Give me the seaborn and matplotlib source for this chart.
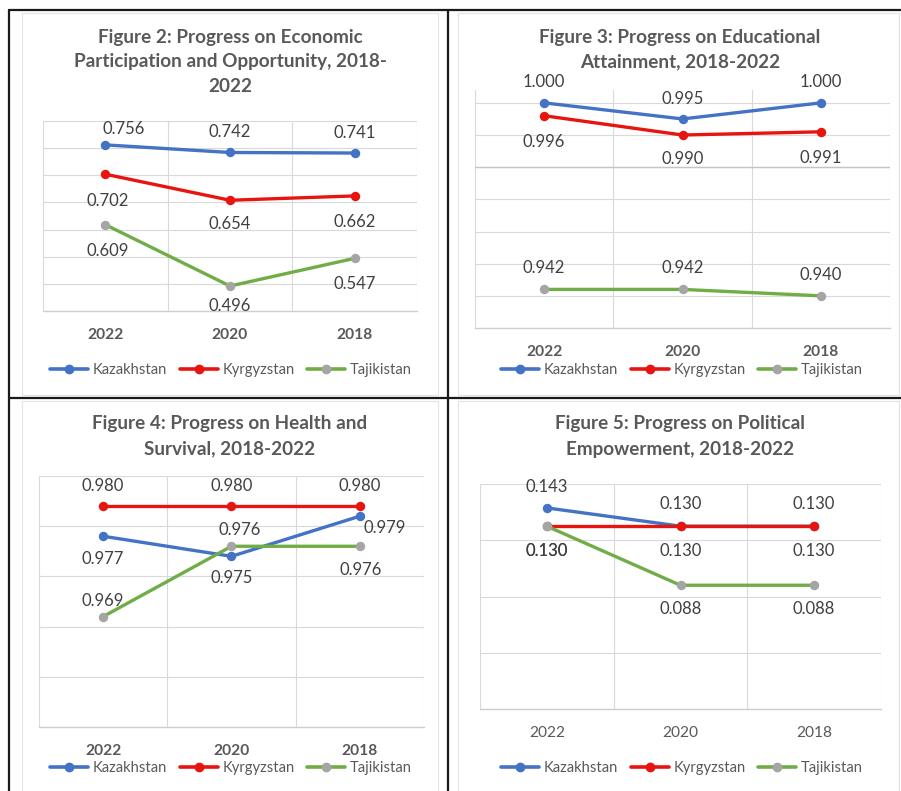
import numpy as np
import pandas as pd
import seaborn as sns
import matplotlib
matplotlib.use("Agg")
import matplotlib.pyplot as plt
from matplotlib.lines import Line2D
from matplotlib.patches import Rectangle

# ---------------- data ----------------
years = ["2022", "2020", "2018"]
countries = ["Kazakhstan", "Kyrgyzstan", "Tajikistan"]

econ_kazakhstan = [0.756, 0.742, 0.741]
econ_kyrgyzstan = [0.702, 0.654, 0.662]
econ_tajikistan = [0.609, 0.496, 0.547]

edu_kazakhstan = [1.000, 0.995, 1.000]
edu_kyrgyzstan = [0.996, 0.990, 0.991]
edu_tajikistan = [0.942, 0.942, 0.940]

health_kazakhstan = [0.977, 0.975, 0.979]
health_kyrgyzstan = [0.980, 0.980, 0.980]
health_tajikistan = [0.969, 0.976, 0.976]

pol_kazakhstan = [0.143, 0.130, 0.130]
pol_kyrgyzstan = [0.130, 0.130, 0.130]
pol_tajikistan = [0.130, 0.088, 0.088]

titles = [
    "Figure 2: Progress on Economic\nParticipation and Opportunity, 2018-\n2022",
    "Figure 3: Progress on Educational\nAttainment, 2018-2022",
    "Figure 4: Progress on Health and\nSurvival, 2018-2022",
    "Figure 5: Progress on Political\nEmpowerment, 2018-2022",
]

# ---------------- style ----------------
W, H = 901, 791
line_colors = {"Kazakhstan": "#4472C4", "Kyrgyzstan": "#E8140F", "Tajikistan": "#70AD47"}
marker_colors = {"Kazakhstan": "#4472C4", "Kyrgyzstan": "#E8140F", "Tajikistan": "#A5A5A5"}
grid_c = "#D9D9D9"
text_c = "#404040"
title_c = "#595959"

sns.set_style("white")
plt.rcParams["font.family"] = ["Lato", "DejaVu Sans"]

fig = plt.figure(figsize=(W / 100, H / 100), dpi=100)
fig.patch.set_facecolor("white")


def rect(x0, y0, x1, y1):
    return [x0 / W, 1 - y1 / H, (x1 - x0) / W, (y1 - y0) / H]


def make_df(a, b, c):
    rows = []
    for name, vals in zip(countries, [a, b, c]):
        for i, (yr, v) in enumerate(zip(years, vals)):
            rows.append({"country": name, "pos": i, "year": yr, "value": v})
    return pd.DataFrame(rows)


panels = [
    dict(df=make_df(econ_kazakhstan, econ_kyrgyzstan, econ_tajikistan),
         box=(43, 121, 417, 311), ylim=(0.45, 0.80), grid=np.arange(0.45, 0.801, 0.05),
         dark=[], title_xy=(230, 37), legend_xy=(231, 370), bold=True,
         offs={"Kazakhstan": [(18, -16), (0, -20), (0, -20)],
               "Kyrgyzstan": [(2, 27), (0, 24), (0, 26)],
               "Tajikistan": [(2, 26), (0, 20), (0, 26)]}),
    dict(df=make_df(edu_kazakhstan, edu_kyrgyzstan, edu_tajikistan),
         box=(475, 90, 890, 328), ylim=(0.93, 1.004), grid=np.arange(0.93, 1.0001, 0.01),
         dark=[0.98], title_xy=(680, 37), legend_xy=(682, 370), bold=True,
         offs={"Kazakhstan": [(0, -21), (0, -20), (0, -21)],
               "Kyrgyzstan": [(0, 26), (0, 24), (0, 26)],
               "Tajikistan": [(0, -21), (0, -21), (0, -21)]}),
    dict(df=make_df(health_kazakhstan, health_kyrgyzstan, health_tajikistan),
         box=(39, 476, 424, 727), ylim=(0.958, 0.983), grid=np.arange(0.958, 0.9831, 0.005),
         dark=[], title_xy=(230, 424), legend_xy=(231, 768), bold=True,
         offs={"Kazakhstan": [(0, 23), (0, 22), (25, 12)],
               "Kyrgyzstan": [(0, -20), (0, -20), (0, -20)],
               "Tajikistan": [(0, -16), (8, -16), (1, 24)]}),
    dict(df=make_df(pol_kazakhstan, pol_kyrgyzstan, pol_tajikistan),
         box=(480, 484, 881, 709), ylim=(0.0, 0.16), grid=np.arange(0.0, 0.1601, 0.04),
         dark=[], title_xy=(680, 424), legend_xy=(682, 768), bold=False,
         offs={"Kazakhstan": [(0, -21), (0, -22), (0, -22)],
               "Kyrgyzstan": [(0, 25), (0, 25), (0, 25)],
               "Tajikistan": [(0, 25), (0, 24), (0, 24)]}),
]

for p in panels:
    ax = fig.add_axes(rect(*p["box"]))
    df = p["df"]
    for z, name in enumerate(countries):
        sub = df[df["country"] == name]
        sns.lineplot(data=sub, x="pos", y="value", color=line_colors[name], lw=2.4,
                     sort=False, ax=ax, zorder=3 + z, legend=False)
        sns.scatterplot(data=sub, x="pos", y="value", color=marker_colors[name], s=46,
                        edgecolor=marker_colors[name], linewidth=0, ax=ax,
                        zorder=3.5 + z, legend=False, clip_on=False)
        for (_, r), (dx, dy) in zip(sub.iterrows(), p["offs"][name]):
            ax.annotate(f"{r['value']:.3f}", (r["pos"], r["value"]),
                        xytext=(dx * 0.72, -dy * 0.72), textcoords="offset points",
                        ha="center", va="center", fontsize=12, color=text_c, zorder=10)
    ax.set_xlim(-0.5, 2.5)
    ax.set_ylim(*p["ylim"])
    ax.set_yticks(p["grid"])
    ax.set_yticklabels([])
    ax.set_xticks(range(len(years)))
    ax.set_xticklabels(years, fontsize=11.2, color=title_c,
                       fontweight="bold" if p["bold"] else "normal")
    ax.set_xticks([-0.5, 0.5, 1.5, 2.5], minor=True)
    ax.tick_params(axis="both", which="both", length=0)
    ax.tick_params(axis="x", pad=12.5)
    ax.grid(True, axis="y", which="major", color=grid_c, lw=0.8)
    ax.grid(True, axis="x", which="minor", color=grid_c, lw=0.8)
    ax.grid(False, axis="x", which="major")
    for v in p["dark"]:
        ax.axhline(v, color="#C4C4C4", lw=1.0, zorder=1)
    for s in ax.spines.values():
        s.set_visible(False)
    ax.spines["bottom"].set_visible(True)
    ax.spines["bottom"].set_color("#CFCFCF")
    ax.spines["bottom"].set_linewidth(1.0)
    ax.set_xlabel("")
    ax.set_ylabel("")
    ax.set_axisbelow(True)

    handles = [Line2D([0], [0], color=line_colors[n], lw=2.6, marker="o", ms=6,
                      mfc=marker_colors[n], mec=marker_colors[n]) for n in countries]
    lx, ly = p["legend_xy"]
    fig.legend(handles, countries, loc="center", bbox_to_anchor=(lx / W, 1 - ly / H),
               ncol=3, frameon=False, fontsize=10.6, handlelength=2.6,
               handletextpad=0.3, columnspacing=0.85, labelcolor=title_c)

# titles (line by line, 25 px apart)
for p, t in zip(panels, titles):
    tx, ty = p["title_xy"]
    for k, line in enumerate(t.split("\n")):
        fig.text(tx / W, 1 - (ty + 25 * k) / H, line, ha="center", va="center",
                 fontsize=13.6, fontweight="bold", color=title_c)

# chart-area frames (light) and table borders (black)
for (x0, y0, x1, y1) in [(22, 13, 438, 395), (458, 13, 899, 395),
                         (22, 401, 438, 795), (458, 401, 899, 795)]:
    fig.add_artist(Rectangle((x0 / W, 1 - y1 / H), (x1 - x0) / W, (y1 - y0) / H,
                             transform=fig.transFigure, fill=False, ec="#E3E3E3", lw=0.8))
border = dict(color="#1A1A1A", lw=1.6, transform=fig.transFigure)
fig.add_artist(Line2D([9 / W, 1], [1 - 10 / H, 1 - 10 / H], **border))
fig.add_artist(Line2D([9 / W, 9 / W], [1 - 10 / H, 0], **border))
fig.add_artist(Line2D([448 / W, 448 / W], [1 - 10 / H, 0], **border))
fig.add_artist(Line2D([9 / W, 1], [1 - 398 / H, 1 - 398 / H], **border))

fig.savefig("out.png", dpi=100, facecolor="white")
